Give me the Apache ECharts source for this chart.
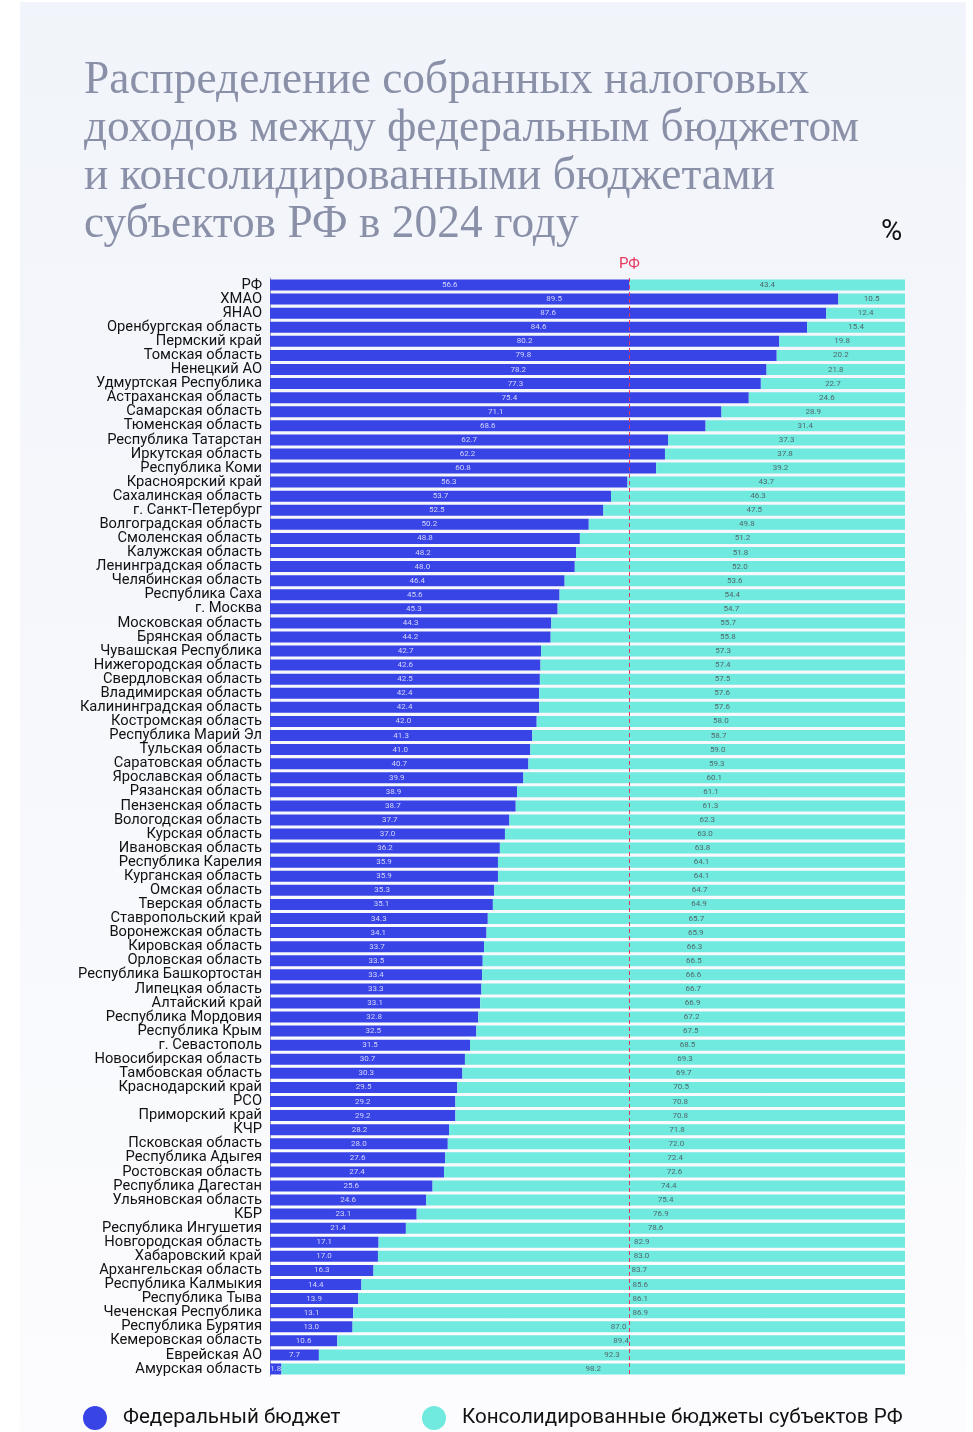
<!DOCTYPE html>
<html lang="ru">
<head>
    <meta charset="UTF-8">
    <title>Распределение налоговых доходов 2024</title>
    <script src="https://cdn.jsdelivr.net/npm/echarts@6/dist/echarts.min.js"></script>
    <style>
        html, body {
            margin: 0;
            padding: 0;
            background: #ffffff;
        }
        .panel {
            position: absolute;
            left: 20px;
            top: 2px;
            width: 946px;
            height: 1430px;
            background: linear-gradient(#f1f4fa, #fcfcfe);
        }
        #chart {
            position: absolute;
            left: 0;
            top: 0;
            width: 973px;
            height: 1432px;
        }
    </style>
</head>
<body>
<div class="panel"></div>
<div id="chart"></div>
<script type="text/javascript">
    const regions = [
        'РФ', 'ХМАО', 'ЯНАО', 'Оренбургская область', 'Пермский край', 'Томская область',
        'Ненецкий АО', 'Удмуртская Республика', 'Астраханская область', 'Самарская область',
        'Тюменская область', 'Республика Татарстан', 'Иркутская область', 'Республика Коми',
        'Красноярский край', 'Сахалинская область', 'г. Санкт-Петербург', 'Волгоградская область',
        'Смоленская область', 'Калужская область', 'Ленинградская область', 'Челябинская область',
        'Республика Саха', 'г. Москва', 'Московская область', 'Брянская область',
        'Чувашская Республика', 'Нижегородская область', 'Свердловская область', 'Владимирская область',
        'Калининградская область', 'Костромская область', 'Республика Марий Эл', 'Тульская область',
        'Саратовская область', 'Ярославская область', 'Рязанская область', 'Пензенская область',
        'Вологодская область', 'Курская область', 'Ивановская область', 'Республика Карелия',
        'Курганская область', 'Омская область', 'Тверская область', 'Ставропольский край',
        'Воронежская область', 'Кировская область', 'Орловская область', 'Республика Башкортостан',
        'Липецкая область', 'Алтайский край', 'Республика Мордовия', 'Республика Крым',
        'г. Севастополь', 'Новосибирская область', 'Тамбовская область', 'Краснодарский край',
        'РСО', 'Приморский край', 'КЧР', 'Псковская область',
        'Республика Адыгея', 'Ростовская область', 'Республика Дагестан', 'Ульяновская область',
        'КБР', 'Республика Ингушетия', 'Новгородская область', 'Хабаровский край',
        'Архангельская область', 'Республика Калмыкия', 'Республика Тыва', 'Чеченская Республика',
        'Республика Бурятия', 'Кемеровская область', 'Еврейская АО', 'Амурская область'
    ];

    // доля федерального бюджета, %
    const federal = [
        56.6, 89.5, 87.6, 84.6, 80.2, 79.8, 78.2, 77.3, 75.4, 71.1,
        68.6, 62.7, 62.2, 60.8, 56.3, 53.7, 52.5, 50.2, 48.8, 48.2,
        48.0, 46.4, 45.6, 45.3, 44.3, 44.2, 42.7, 42.6, 42.5, 42.4,
        42.4, 42.0, 41.3, 41.0, 40.7, 39.9, 38.9, 38.7, 37.7, 37.0,
        36.2, 35.9, 35.9, 35.3, 35.1, 34.3, 34.1, 33.7, 33.5, 33.4,
        33.3, 33.1, 32.8, 32.5, 31.5, 30.7, 30.3, 29.5, 29.2, 29.2,
        28.2, 28.0, 27.6, 27.4, 25.6, 24.6, 23.1, 21.4, 17.1, 17.0,
        16.3, 14.4, 13.9, 13.1, 13.0, 10.6, 7.7, 1.8
    ];

    // доля консолидированных бюджетов субъектов, %
    const regional = [
        43.4, 10.5, 12.4, 15.4, 19.8, 20.2, 21.8, 22.7, 24.6, 28.9,
        31.4, 37.3, 37.8, 39.2, 43.7, 46.3, 47.5, 49.8, 51.2, 51.8,
        52.0, 53.6, 54.4, 54.7, 55.7, 55.8, 57.3, 57.4, 57.5, 57.6,
        57.6, 58.0, 58.7, 59.0, 59.3, 60.1, 61.1, 61.3, 62.3, 63.0,
        63.8, 64.1, 64.1, 64.7, 64.9, 65.7, 65.9, 66.3, 66.5, 66.6,
        66.7, 66.9, 67.2, 67.5, 68.5, 69.3, 69.7, 70.5, 70.8, 70.8,
        71.8, 72.0, 72.4, 72.6, 74.4, 75.4, 76.9, 78.6, 82.9, 83.0,
        83.7, 85.6, 86.1, 86.9, 87.0, 89.4, 92.3, 98.2
    ];

    const rfLevel = 56.6;

    let chart = echarts.init(document.getElementById('chart'));

    // подписи, которые налезают на пунктир РФ, сдвигаются в сторону
    function avoidRfLine(params) {
        const lx = chart.convertToPixel({xAxisIndex: 0}, rfLevel);
        const r = params.labelRect;
        if (r.x < lx && r.x + r.width > lx) {
            const center = r.x + r.width / 2;
            if (center > lx - 0.5) {
                return {dx: lx + 3 - r.x};
            }
            return {dx: lx - 3 - (r.x + r.width)};
        }
        return {};
    }

    const legendText = {fontFamily: 'Roboto', fontSize: 20.6, color: '#111111', padding: [0, 0, 0, 11]};

    chart.setOption({
        backgroundColor: 'transparent',
        animation: false,
        title: [
            {
                text: 'Распределение собранных налоговых\nдоходов между федеральным бюджетом\nи консолидированными бюджетами\nсубъектов РФ в 2024 году',
                left: 84,
                top: 57,
                padding: 0,
                textStyle: {
                    fontFamily: 'Liberation Serif',
                    fontWeight: 'normal',
                    fontSize: 45.4,
                    lineHeight: 48,
                    color: '#8a90a8'
                }
            },
            {
                text: '%',
                left: 876,
                top: 213,
                textStyle: {
                    fontFamily: 'Roboto',
                    fontWeight: 'normal',
                    fontSize: 29,
                    color: '#111111'
                }
            }
        ],
        legend: [
            {
                data: ['Федеральный бюджет'],
                left: 83,
                top: 1406,
                padding: 0,
                icon: 'circle',
                itemWidth: 24,
                itemHeight: 24,
                itemGap: 0,
                textStyle: legendText
            },
            {
                data: ['Консолидированные бюджеты субъектов РФ'],
                left: 422,
                top: 1406,
                padding: 0,
                icon: 'circle',
                itemWidth: 24,
                itemHeight: 24,
                itemGap: 0,
                textStyle: legendText
            }
        ],
        grid: {
            left: 270,
            right: 68,
            top: 278,
            bottom: 56,
            containLabel: false
        },
        xAxis: {
            type: 'value',
            min: 0,
            max: 100,
            show: false
        },
        yAxis: {
            type: 'category',
            data: regions,
            inverse: true,
            axisTick: {show: false},
            axisLine: {show: true, lineStyle: {color: '#9a9aa6', width: 1}},
            axisLabel: {
                fontFamily: 'Roboto',
                fontSize: 14.7,
                color: '#111111',
                margin: 8,
                interval: 0
            }
        },
        series: [
            {
                name: 'Федеральный бюджет',
                type: 'bar',
                stack: 'total',
                barWidth: 11,
                data: federal,
                itemStyle: {color: '#3944e6'},
                label: {
                    show: true,
                    position: 'inside',
                    fontFamily: 'Roboto',
                    fontSize: 8,
                    color: '#d2d5ff',
                    formatter: p => p.value.toFixed(1)
                },
                markLine: {
                    silent: true,
                    symbol: 'none',
                    data: [{xAxis: rfLevel}],
                    lineStyle: {color: '#e8375a', type: [4, 3], width: 1},
                    label: {
                        show: true,
                        position: 'start',
                        formatter: 'РФ',
                        fontFamily: 'Roboto',
                        fontSize: 15,
                        color: '#e8375a',
                        distance: 6
                    }
                }
            },
            {
                name: 'Консолидированные бюджеты субъектов РФ',
                type: 'bar',
                stack: 'total',
                barWidth: 11,
                data: regional,
                itemStyle: {color: '#70e9de'},
                label: {
                    show: true,
                    position: 'inside',
                    fontFamily: 'Roboto',
                    fontSize: 8,
                    color: '#52696d',
                    formatter: p => p.value.toFixed(1)
                },
                labelLayout: avoidRfLine
            }
        ]
    });
</script>
</body>
</html>
